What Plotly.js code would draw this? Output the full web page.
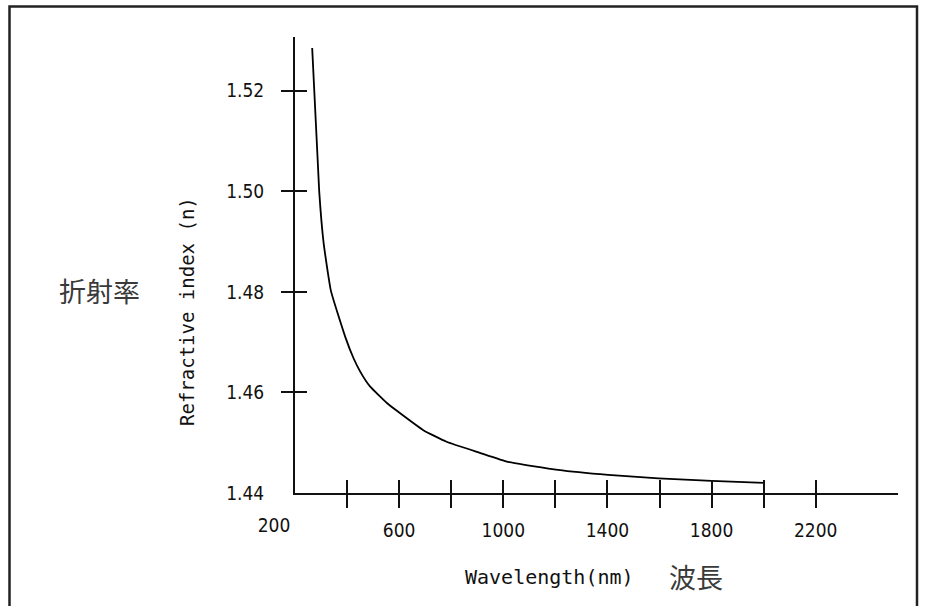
<!DOCTYPE html>
<html>
<head>
<meta charset="utf-8">
<script src="https://cdn.plot.ly/plotly-3.0.1.min.js"></script>
<style>
  html, body { margin: 0; padding: 0; background: #fff; }
  #chart { width: 926px; height: 606px; }
</style>
</head>
<body>
<div id="chart"></div>
<script>
// ---- data ----
const wavelength = [266, 293, 310, 338, 394, 424, 451, 488, 553, 590, 693, 782, 910, 1018, 1210, 1403, 1596, 1800, 2000];
const refractiveIndex = [1.5285, 1.5000, 1.4897, 1.4802, 1.4709, 1.4669, 1.4641, 1.4612, 1.4579, 1.4564, 1.4525, 1.4502, 1.4480, 1.4462, 1.4446, 1.4436, 1.4429, 1.4424, 1.4420];

const xTickVals = [400, 600, 800, 1000, 1200, 1400, 1600, 1800, 2000, 2200];
const xLabelVals = [600, 1000, 1400, 1800, 2200];
const xLabelText = ['600', '1000', '1400', '1800', '2200'];
const xFirstLabelVal = [200];
const xFirstLabelText = ['200'];

const yTickVals = [1.46, 1.48, 1.50, 1.52];
const yLabelVals = [1.44, 1.46, 1.48, 1.50, 1.52];
const yLabelText = ['1.44', '1.46', '1.48', '1.50', '1.52'];

const xTitle = 'Wavelength(nm)';
const xTitleCJK = '波長';
const yTitle = 'Refractive index (n)';
const yTitleCJK = '折射率';

// ---- styling ----
const xRange = [200, 2516];
const yRange = [1.44, 1.5307];
const ink = '#111';
const numFont = {family: '"Liberation Sans Narrow", "DejaVu Sans Condensed", sans-serif', size: 19, color: '#111'};
const monoFont = {family: '"DejaVu Sans Mono", "Liberation Mono", monospace', color: '#111'};
const cjkFont = {family: '"Noto Sans CJK JP", "Noto Sans CJK TC", sans-serif', size: 27, color: '#3a3a3a'};

const base = {showgrid: false, zeroline: false, fixedrange: true};

const traces = [
  {x: wavelength, y: refractiveIndex, type: 'scatter', mode: 'lines',
   line: {color: '#000', width: 1.8, shape: 'spline', smoothing: 0.4}, hoverinfo: 'skip', showlegend: false},
  {x: [], y: [], xaxis: 'x2', yaxis: 'y2', type: 'scatter', showlegend: false},
  {x: [], y: [], xaxis: 'x3', yaxis: 'y3', type: 'scatter', showlegend: false},
  {x: [], y: [], xaxis: 'x4', yaxis: 'y3', type: 'scatter', showlegend: false}
];

const layout = {
  width: 926, height: 606,
  margin: {l: 295, r: 28, t: 37, b: 113, pad: 0},
  paper_bgcolor: '#fff', plot_bgcolor: '#fff',
  showlegend: false,
  xaxis: Object.assign({}, base, {
    range: xRange, showline: true, linewidth: 2, linecolor: ink,
    ticks: 'outside', ticklen: 13, tickwidth: 2, tickcolor: ink,
    tickmode: 'array', tickvals: xTickVals, showticklabels: false
  }),
  xaxis2: Object.assign({}, base, {
    range: xRange, overlaying: 'x', anchor: 'y', side: 'bottom', showline: false,
    ticks: 'inside', ticklen: 13, tickwidth: 2, tickcolor: ink,
    tickmode: 'array', tickvals: xTickVals, showticklabels: false
  }),
  xaxis3: Object.assign({}, base, {
    range: xRange, overlaying: 'x', anchor: 'y', side: 'bottom', showline: false,
    ticks: 'outside', ticklen: 13, tickcolor: 'rgba(0,0,0,0)',
    tickmode: 'array', tickvals: xLabelVals, ticktext: xLabelText,
    tickfont: numFont, ticklabelstandoff: 7
  }),
  xaxis4: Object.assign({}, base, {
    range: xRange, overlaying: 'x', anchor: 'y', side: 'bottom', showline: false,
    ticks: 'outside', ticklen: 13, tickcolor: 'rgba(0,0,0,0)',
    tickmode: 'array', tickvals: xFirstLabelVal, ticktext: xFirstLabelText,
    tickfont: numFont, ticklabelstandoff: 2, ticklabelshift: -21
  }),
  yaxis: Object.assign({}, base, {
    range: yRange, showline: true, linewidth: 2, linecolor: ink,
    ticks: 'outside', ticklen: 12, tickwidth: 2, tickcolor: ink,
    tickmode: 'array', tickvals: yTickVals, showticklabels: false
  }),
  yaxis2: Object.assign({}, base, {
    range: yRange, overlaying: 'y', anchor: 'x', side: 'left', showline: false,
    ticks: 'inside', ticklen: 12, tickwidth: 2, tickcolor: ink,
    tickmode: 'array', tickvals: yTickVals, showticklabels: false
  }),
  yaxis3: Object.assign({}, base, {
    range: yRange, overlaying: 'y', anchor: 'x', side: 'left', showline: false,
    ticks: 'outside', ticklen: 12, tickcolor: 'rgba(0,0,0,0)',
    tickmode: 'array', tickvals: yLabelVals, ticktext: yLabelText,
    tickfont: numFont, ticklabelstandoff: 14
  }),
  annotations: [
    {text: xTitle, xref: 'paper', yref: 'paper', x: (549 - 295) / 603, y: (493 - 577) / 456,
     xanchor: 'center', yanchor: 'middle', showarrow: false, font: Object.assign({size: 20}, monoFont)},
    {text: xTitleCJK, xref: 'paper', yref: 'paper', x: (696 - 295) / 603, y: (493 - 576) / 456,
     xanchor: 'center', yanchor: 'middle', showarrow: false, font: cjkFont},
    {text: yTitle, xref: 'paper', yref: 'paper', x: (187 - 295) / 603, y: (493 - 312) / 456,
     xanchor: 'center', yanchor: 'middle', textangle: -90, showarrow: false, font: Object.assign({size: 19}, monoFont)},
    {text: yTitleCJK, xref: 'paper', yref: 'paper', x: (100 - 295) / 603, y: (493 - 290) / 456,
     xanchor: 'center', yanchor: 'middle', showarrow: false, font: cjkFont}
  ],
  shapes: [
    {type: 'rect', xref: 'paper', yref: 'paper',
     x0: (9.5 - 295) / 603, x1: (917 - 295) / 603,
     y0: (493 - 640) / 456, y1: (493 - 6.5) / 456,
     line: {color: '#222', width: 2.5}, fillcolor: 'rgba(0,0,0,0)', layer: 'below'}
  ]
};

Plotly.newPlot('chart', traces, layout, {displayModeBar: false, staticPlot: true});
</script>
</body>
</html>
